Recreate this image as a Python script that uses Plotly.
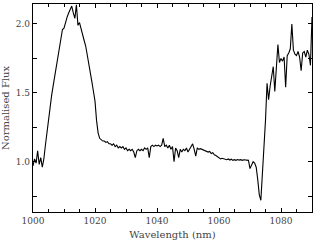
import plotly.graph_objects as go

wavelength_start = 1000.0
wavelength_step = 0.5

flux = [
    # 1000.0 - 1009.5
    0.97, 1.02, 0.99, 1.08, 0.98, 1.03, 0.96, 1.02, 1.12, 1.22,
    1.32, 1.40, 1.48, 1.55, 1.62, 1.68, 1.76, 1.82, 1.91, 1.96,
    # 1010.0 - 1019.5
    1.97, 2.02, 2.05, 2.08, 2.10, 2.13, 2.08, 2.04, 2.14, 1.99,
    2.01, 1.96, 1.93, 1.88, 1.84, 1.78, 1.72, 1.66, 1.58, 1.51,
    # 1020.0 - 1029.5
    1.44, 1.30, 1.21, 1.17, 1.16, 1.15, 1.15, 1.14, 1.145, 1.13,
    1.13, 1.12, 1.13, 1.11, 1.12, 1.10, 1.11, 1.10, 1.11, 1.09,
    # 1030.0 - 1039.5
    1.10, 1.08, 1.09, 1.08, 1.09, 1.07, 1.03, 1.08, 1.09, 1.08,
    1.09, 1.08, 1.10, 1.09, 1.10, 1.03, 1.11, 1.12, 1.11, 1.12,
    # 1040.0 - 1049.5
    1.115, 1.12, 1.11, 1.12, 1.17, 1.11, 1.12, 1.10, 1.12, 1.09,
    1.11, 1.00, 1.10, 1.08, 1.03, 1.09, 1.07, 1.09, 1.08, 1.10,
    # 1050.0 - 1059.5
    1.07, 1.09, 1.10, 1.13, 1.09, 1.04, 1.10, 1.09, 1.095, 1.09,
    1.085, 1.08, 1.08, 1.07, 1.075, 1.06, 1.065, 1.05, 1.045, 1.035,
    # 1060.0 - 1069.5
    1.03, 1.02, 1.025, 1.02, 1.018, 1.015, 1.02, 1.012, 1.018, 1.01,
    1.015, 1.01, 1.016, 1.012, 1.015, 1.01, 1.014, 1.012, 1.01, 1.01,
    # 1070.0 - 1079.5
    0.95, 0.98, 1.00, 0.99, 0.96, 0.87, 0.76, 0.72, 0.90, 1.15,
    1.30, 1.57, 1.45, 1.55, 1.62, 1.69, 1.51, 1.70, 1.85, 1.72,
    # 1080.0 - 1090.0
    1.75, 1.73, 1.76, 1.54, 1.77, 1.79, 1.82, 2.00, 1.81, 1.78,
    1.77, 1.80, 1.76, 1.66, 1.79, 1.80, 1.76, 1.81, 1.78, 1.70,
    2.05,
]

wavelength = [wavelength_start + wavelength_step * i for i in range(len(flux))]

x_tick_vals = [1000, 1020, 1040, 1060, 1080]
y_tick_vals = [1.0, 1.5, 2.0]

FONT = "DejaVu Serif, Liberation Serif, serif"
TXT = "#444444"

fig = go.Figure()
fig.add_trace(go.Scatter(x=wavelength, y=flux, mode="lines",
                         line=dict(color="black", width=1.1),
                         showlegend=False, hoverinfo="skip"))

axis_common = dict(
    showgrid=False, zeroline=False, showline=True, linecolor="black",
    linewidth=1.2, mirror="ticks", ticks="inside", ticklen=4,
    tickcolor="black", tickwidth=1,
    tickfont=dict(family=FONT, size=9, color=TXT),
)

fig.update_xaxes(range=[1000, 1090], tickvals=x_tick_vals,
                 ticktext=[str(v) for v in x_tick_vals],
                 minor=dict(dtick=5, tick0=1000, ticks="inside", ticklen=2.5,
                            tickcolor="black", tickwidth=1),
                 title=dict(text="Wavelength (nm)",
                            font=dict(family=FONT, size=10, color=TXT),
                            standoff=6),
                 automargin=False,
                 **axis_common)
fig.update_yaxes(range=[0.635, 2.145], tickvals=y_tick_vals,
                 ticktext=["%.1f" % v for v in y_tick_vals],
                 minor=dict(dtick=0.25, tick0=0, ticks="inside", ticklen=4,
                            tickcolor="black", tickwidth=1),
                 title=dict(text="Normalised Flux",
                            font=dict(family=FONT, size=10, color=TXT),
                            standoff=4),
                 automargin=False,
                 **axis_common)

fig.update_layout(width=317, height=248,
                  margin=dict(l=33, r=5, t=4, b=36),
                  paper_bgcolor="white", plot_bgcolor="white")

fig.write_html("out.html",
               config={"displayModeBar": False},
               post_script="document.body.style.margin='0';"
                           "document.body.style.padding='0';")
